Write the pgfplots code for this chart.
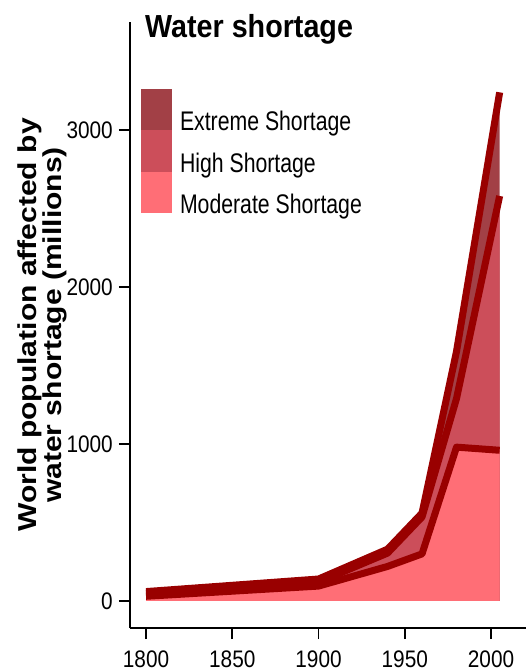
\documentclass[border=0pt]{standalone}
\usepackage{pgfplots}
\usepackage{pgfplotstable}
\pgfplotsset{compat=1.18}
\usepackage{fontspec}
\setmainfont{Liberation Sans}
\newfontfamily\titlefont[FakeStretch=0.9]{Liberation Sans}
\newfontfamily\legfont[FakeStretch=0.79]{Liberation Sans}
\newfontfamily\tickfont[FakeStretch=0.87]{Liberation Sans}
\newfontfamily\ylabfont[FakeStretch=1.16]{Liberation Sans}
\definecolor{cExt}{RGB}{162,64,70}
\definecolor{cHigh}{RGB}{204,78,90}
\definecolor{cMod}{RGB}{255,110,118}
\definecolor{cLine}{RGB}{153,0,0}

\pgfplotstableread{
year mod cumH cumE
1800 30 45 60
1900 95 120 140
1940 220 305 330
1960 300 535 560
1980 980 1290 1590
2005 960 2580 3240
}\datatable

\begin{document}
\begin{tikzpicture}
\useasboundingbox (0,0) rectangle (526bp,672bp);
\clip (0,0) rectangle (526bp,672bp);
\begin{axis}[
  at={(130bp,44bp)}, anchor=south west,
  scale only axis, width=400bp, height=606bp,
  xmin=1790.7, xmax=2022.6, ymin=-172, ymax=3688,
  axis x line*=bottom, axis y line*=left,
  axis line style={line width=1.8bp, black},
  xtick={1800,1850,1900,1950,2000}, ytick={0,1000,2000,3000},
  tick align=outside, major tick length=11bp,
  tick style={line width=1.8bp, black},
  /pgf/number format/set thousands separator={},
  /pgf/number format/assume math mode=true,
  yticklabel style={font=\tickfont\fontsize{24}{28}\selectfont, inner sep=0pt, xshift=-6bp},
  xticklabel style={font=\tickfont\fontsize{24}{28}\selectfont, inner sep=0pt, yshift=-12bp},
  title={Water shortage},
  title style={at={(rel axis cs:0,1)}, anchor=base west, xshift=15bp, yshift=-21bp, inner sep=0pt, font=\titlefont\bfseries\fontsize{32}{36}\selectfont},
  ylabel={World population affected by\\water shortage (millions)},
  ylabel style={at={(axis description cs:-0.1575,0.5)}, anchor=south, inner sep=0pt, align=center, font=\ylabfont\bfseries\fontsize{26}{25}\selectfont},
  legend style={at={(rel axis cs:0,1)}, anchor=north west, xshift=11bp, yshift=-69bp, draw=none, fill=none, inner sep=0pt, outer sep=0pt, row sep=0pt, column sep=0pt, font=\legfont\fontsize{27}{30}\selectfont, nodes={inner sep=0pt}},
  legend cell align=left,
  legend image code/.code={\fill[#1, overlay] (0bp,-8.5bp) rectangle (31bp,33bp); \path[fill=none,draw=none] (0bp,-6bp) rectangle (39bp,31bp);},
]
\addplot[fill=cExt, draw=none] table[x=year,y=cumE]{\datatable} \closedcycle;
\addlegendentry{Extreme Shortage}
\addplot[fill=cHigh, draw=none] table[x=year,y=cumH]{\datatable} \closedcycle;
\addlegendentry{High Shortage}
\addplot[fill=cMod, draw=none] table[x=year,y=mod]{\datatable} \closedcycle;
\addlegendentry{Moderate Shortage}
\addplot[forget plot, cLine, line width=7bp, line join=round] table[x=year,y=mod]{\datatable};
\addplot[forget plot, cLine, line width=7bp, line join=round] table[x=year,y=cumH]{\datatable};
\addplot[forget plot, cLine, line width=7bp, line join=round] table[x=year,y=cumE]{\datatable};
\end{axis}
\end{tikzpicture}
\end{document}
